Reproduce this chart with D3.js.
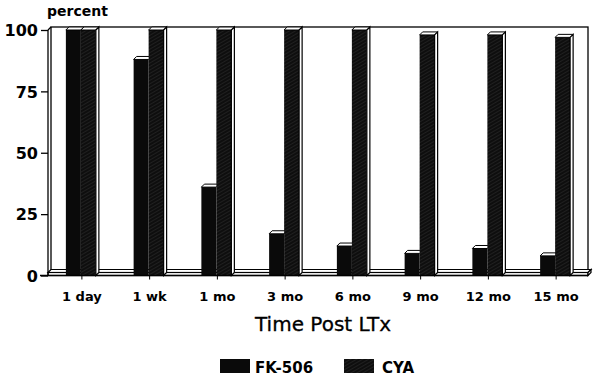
<!DOCTYPE html>
<html>
<head>
<meta charset="utf-8">
<script src="https://cdn.jsdelivr.net/npm/d3@7"></script>
<style>
  body { margin: 0; background: #fff; }
  text { font-family: "DejaVu Sans", sans-serif; fill: #000; }
</style>
</head>
<body>
<div id="chart"></div>
<script>
const categories = ['1 day', '1 wk', '1 mo', '3 mo', '6 mo', '9 mo', '12 mo', '15 mo'];
const fk506 = [100, 88, 36, 17, 12, 9, 11, 8];
const cya = [100, 100, 100, 100, 100, 98, 98, 97];
const yTicks = [0, 25, 50, 75, 100];
const seriesNames = ['FK-506', 'CYA'];

const width = 600;
const height = 381;
const depth = 3; // 3D offset of the bars

const svg = d3.select('#chart')
  .append('svg')
  .attr('width', width)
  .attr('height', height);

// hatch for the CYA bars
const defs = svg.append('defs');
const pat = defs.append('pattern')
  .attr('id', 'hatch')
  .attr('patternUnits', 'userSpaceOnUse')
  .attr('width', 3)
  .attr('height', 3)
  .attr('patternTransform', 'rotate(60)');
pat.append('rect').attr('width', 3).attr('height', 3).attr('fill', '#0e0e0e');
pat.append('line')
  .attr('x1', 0).attr('y1', 0).attr('x2', 0).attr('y2', 3)
  .attr('stroke', '#3c3c3c').attr('stroke-width', 0.8);

const x = d3.scaleBand()
  .domain(categories)
  .range([48, 590]);

const y = d3.scaleLinear()
  .domain([0, 100])
  .range([275.5, 30]);

// back wall / frame
svg.append('rect')
  .attr('x', 51).attr('y', 27)
  .attr('width', 537).attr('height', 245)
  .attr('fill', 'none')
  .attr('stroke', '#000')
  .attr('stroke-width', 1.3);

svg.append('line')
  .attr('x1', 48).attr('y1', 30).attr('x2', 51).attr('y2', 27)
  .attr('stroke', '#000').attr('stroke-width', 1.3);

// floor slab
svg.append('polygon')
  .attr('points', `48,${y(0) - 3} ${48 + depth},${y(0) - 3 - depth} ${588 + depth},${y(0) - 3 - depth} 588,${y(0) - 3}`)
  .attr('fill', '#fff').attr('stroke', '#000').attr('stroke-width', 1.2);
svg.append('rect')
  .attr('x', 48).attr('y', y(0) - 3)
  .attr('width', 540).attr('height', 3)
  .attr('fill', '#fff').attr('stroke', '#000').attr('stroke-width', 1.2);
svg.append('polygon')
  .attr('points', `588,${y(0)} 588,${y(0) - 3} ${588 + depth},${y(0) - 3 - depth} ${588 + depth},${y(0) - depth}`)
  .attr('fill', '#fff').attr('stroke', '#000').attr('stroke-width', 1.2);

const barW = 15;
const data = categories.map((c, i) => ({ cat: c, fk: fk506[i], cya: cya[i] }));

const groups = svg.append('g')
  .selectAll('g')
  .data(data)
  .enter()
  .append('g');

function bar(g, x0, v, fill, side) {
  const top = y(v);
  g.append('rect')
    .attr('x', x0).attr('y', top)
    .attr('width', barW).attr('height', y(0) - top)
    .attr('fill', fill);
  // top face
  g.append('polygon')
    .attr('points', `${x0},${top} ${x0 + depth},${top - depth} ${x0 + barW + depth},${top - depth} ${x0 + barW},${top}`)
    .attr('fill', '#fff').attr('stroke', '#000').attr('stroke-width', 1);
  if (side) {
    g.append('polygon')
      .attr('points', `${x0 + barW},${top} ${x0 + barW + depth},${top - depth} ${x0 + barW + depth},${y(0) - depth} ${x0 + barW},${y(0)}`)
      .attr('fill', '#fff').attr('stroke', '#000').attr('stroke-width', 1.2);
  }
}

groups.each(function (d) {
  const g = d3.select(this);
  const c = x(d.cat) + x.bandwidth() / 2;
  bar(g, c - 16, d.fk, '#0a0a0a', false);
  bar(g, c - 1, d.cya, 'url(#hatch)', true);
});

// y axis
const yAxis = svg.append('g')
  .attr('transform', 'translate(48,0)')
  .call(d3.axisLeft(y).tickValues(yTicks).tickSize(7).tickPadding(3));
yAxis.select('.domain').remove();
yAxis.selectAll('.tick line').attr('stroke', '#000').attr('stroke-width', 1.3);
yAxis.selectAll('.tick text')
  .attr('font-family', '"DejaVu Sans", sans-serif')
  .attr('font-size', 16)
  .attr('font-weight', 'bold')
  .attr('dy', '0.36em');

svg.append('line')
  .attr('x1', 48).attr('y1', 30).attr('x2', 48).attr('y2', y(0))
  .attr('stroke', '#000').attr('stroke-width', 1.3);

// x axis
const xAxis = svg.append('g')
  .attr('transform', `translate(0,${y(0)})`)
  .call(d3.axisBottom(x).tickSize(4).tickPadding(12));
xAxis.select('.domain').remove();
xAxis.selectAll('.tick line').attr('stroke', '#000').attr('stroke-width', 1);
xAxis.selectAll('.tick text')
  .attr('font-family', '"DejaVu Sans", sans-serif')
  .attr('font-size', 13)
  .attr('font-weight', 'bold');

svg.append('line')
  .attr('x1', 40).attr('y1', y(0)).attr('x2', 588).attr('y2', y(0))
  .attr('stroke', '#000').attr('stroke-width', 1.3);

svg.append('text')
  .text('percent')
  .attr('x', 47).attr('y', 16)
  .attr('font-size', 14)
  .attr('font-weight', 'bold');

svg.append('text')
  .text('Time Post LTx')
  .attr('x', 323).attr('y', 331)
  .attr('text-anchor', 'middle')
  .attr('font-size', 20)
  .attr('stroke', '#000')
  .attr('stroke-width', 0.3);

// legend
const legendX = [220, 344];
const legend = svg.append('g')
  .selectAll('g')
  .data(seriesNames)
  .enter()
  .append('g')
  .attr('transform', (d, i) => `translate(${legendX[i]},359)`);

legend.append('rect')
  .attr('width', 30).attr('height', 14)
  .attr('fill', (d, i) => i === 0 ? '#0a0a0a' : 'url(#hatch)');

legend.append('text')
  .text(d => d)
  .attr('x', (d, i) => i === 0 ? 35 : 38)
  .attr('y', 14)
  .attr('font-size', 15)
  .attr('font-weight', 'bold');
</script>
</body>
</html>
